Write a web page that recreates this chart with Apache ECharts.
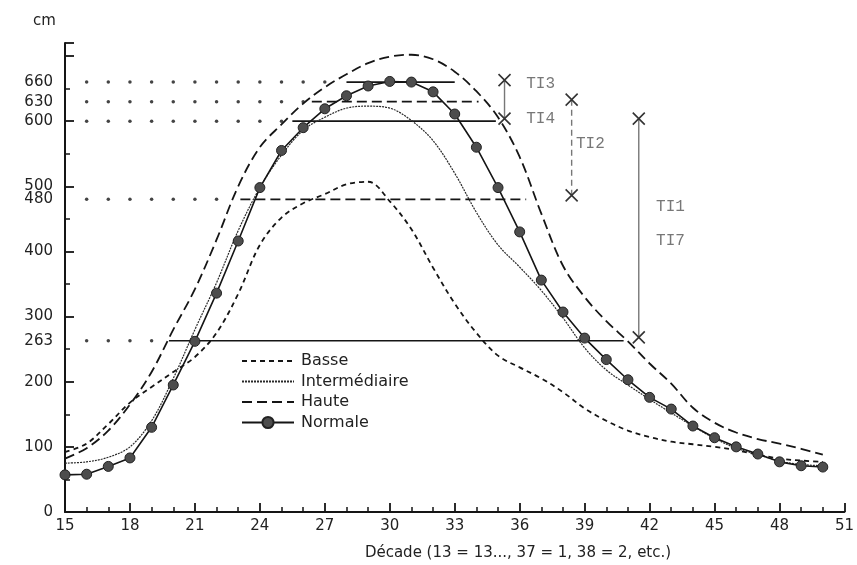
<!DOCTYPE html>
<html><head><meta charset="utf-8">
<script src="https://cdn.jsdelivr.net/npm/echarts@6/dist/echarts.min.js"></script>
<style>html,body{margin:0;padding:0;background:#fff}#c{width:857px;height:565px}</style>
</head><body><div id="c"></div>
<script>
const decades = [15,16,17,18,19,20,21,22,23,24,25,26,27,28,29,30,31,32,33,34,35,36,37,38,39,40,41,42,43,44,45,46,47,48,49,50];
const basse = [92,105,135,168,192,215,238,275,335,410,452,474,488,503,507,477,434,375,320,275,240,222,205,184,159,140,125,115,108,104,100,95,88,82,79,77];
const intermediaire = [75,77,84,100,140,205,280,352,432,498,548,586,606,620,623,620,601,570,520,460,410,376,340,298,252,218,195,173,152,132,113,98,88,78,73,71];
const haute = [82,98,125,165,215,280,342,418,500,560,595,627,652,672,689,699,702,695,676,646,606,545,458,378,330,293,262,228,197,160,137,122,112,105,97,88];
const normale = [57,58,70,83,130,195,262,336,416,498,555,590,619,639,654,661,660,645,611,560,498,430,356,307,267,234,203,176,158,132,114,100,89,77,71,69];

const yLabelValues = [0,100,200,263,300,400,480,500,600,630,660];
const xLabelValues = [15,18,21,24,27,30,33,36,39,42,45,48,51];

// horizontal threshold segments
const thrValue = [660, 630, 600, 480, 263];
const thrStart = [28, 26.4, 25.5, 23.1, 19.8];
const thrEnd = [33, 34.1, 34.9, 36.3, 40.8];
const thrDashed = [false, true, false, true, false];
// leader dots: from decade 16 up to
const leaderEnd = [27, 26, 25, 22, 19];

// interval brackets
const tiDecade = [35.3, 38.4, 41.5];
const tiTop = [663, 633, 604];
const tiBottom = [604, 486, 268];
const tiDashed = [false, true, false];
// annotation text anchors
const tiText = ['TI3', 'TI4', 'TI2', 'TI1', 'TI7'];
const tiTextDecade = [36.3, 36.3, 38.6, 42.3, 42.3];
const tiTextValue = [657, 604, 566, 468, 416];

const pair = arr => decades.map((d, i) => [d, arr[i]]);
const BLACK = '#151515';
const FONT = 'DejaVu Sans, Liberation Sans, Arial, sans-serif';

const series = [];
series.push({name:'Basse', type:'line', data:pair(basse), symbol:'none', smooth:0.35,
  lineStyle:{color:BLACK, width:1.8, type:[5,4]}, itemStyle:{color:BLACK}, z:3});
series.push({name:'Intermédiaire', type:'line', data:pair(intermediaire), symbol:'none', smooth:0.35,
  lineStyle:{color:'#2a2a2a', width:1.2, type:[2,1]}, itemStyle:{color:'#2a2a2a'}, z:3});
series.push({name:'Haute', type:'line', data:pair(haute), symbol:'none', smooth:0.35,
  lineStyle:{color:BLACK, width:1.8, type:[10,5]}, itemStyle:{color:BLACK}, z:3});

thrValue.forEach((v, i) => {
  series.push({type:'line', data:[[thrStart[i], v],[thrEnd[i], v]], symbol:'none', silent:true,
    lineStyle:{color:BLACK, width:1.6, type: thrDashed[i] ? [10,5] : 'solid'}, z:2});
  const dots = [];
  for (let d = 16; d <= leaderEnd[i]; d++) dots.push([d, v]);
  series.push({type:'scatter', data:dots, symbol:'circle', symbolSize:3.5, silent:true,
    itemStyle:{color:BLACK}, z:2});
});

const xPath = 'path://M0,0L10,10M10,0L0,10';
tiDecade.forEach((d, i) => {
  series.push({type:'line', data:[[d, tiTop[i]],[d, tiBottom[i]]], silent:true,
    symbol:xPath, symbolSize:12, showSymbol:true,
    itemStyle:{color:'none', borderColor:'#333', borderWidth:1.6},
    lineStyle:{color:'#777', width:1.4, type: tiDashed[i] ? [6,4] : 'solid'}, z:4});
});

series.push({type:'scatter', silent:true, symbolSize:0,
  data: tiText.map((t, i) => ({name:t, value:[tiTextDecade[i], tiTextValue[i]]})),
  label:{show:true, position:'right', distance:0, formatter:p => p.name,
    fontFamily:'Liberation Mono, Courier New, monospace', fontSize:16, color:'#555'}, z:5});

series.push({name:'Normale', type:'line', data:pair(normale), symbol:'circle', symbolSize:10,
  lineStyle:{color:BLACK, width:1.6}, itemStyle:{color:'#4d4d4d', borderColor:'#222', borderWidth:1}, z:6});

const hidden = {color:'transparent', borderColor:'transparent'};
const chart = echarts.init(document.getElementById('c'), null, {renderer:'canvas'});
chart.setOption({
  animation:false,
  backgroundColor:'#fff',
  textStyle:{fontFamily:FONT},
  title:[
    {text:'cm', left:28, top:9, textStyle:{fontSize:15, fontWeight:'normal', color:'#222', fontFamily:FONT}},
    {text:'Décade (13 = 13..., 37 = 1, 38 = 2, etc.)', left:513, top:541, textAlign:'center',
      textStyle:{fontSize:15, fontWeight:'normal', color:'#222', fontFamily:FONT}}
  ],
  legend:{data:[{name:'Basse', itemStyle:hidden},{name:'Intermédiaire', itemStyle:hidden},
      {name:'Haute', itemStyle:hidden},{name:'Normale'}],
    orient:'vertical', left:236, top:348,
    itemWidth:52, itemHeight:14, itemGap:4.5,
    textStyle:{fontSize:16, lineHeight:16, color:'#222', fontFamily:FONT, padding:[0,0,0,2]}},
  grid:{left:65, right:12, top:43, bottom:53},
  xAxis:{type:'value', min:15, max:51, interval:3,
    axisLine:{lineStyle:{color:BLACK, width:2}},
    axisTick:{inside:true, length:9, lineStyle:{width:1.8, color:BLACK}},
    minorTick:{show:true, splitNumber:3, length:5, lineStyle:{width:1.5, color:BLACK}},
    splitLine:{show:false},
    axisLabel:{color:'#222', fontSize:15, margin:7, fontFamily:FONT, customValues:xLabelValues}},
  yAxis:{type:'value', min:0, max:720, interval:100,
    axisLine:{show:true, lineStyle:{color:BLACK, width:2}},
    axisTick:{show:true, inside:true, length:9, lineStyle:{width:1.8, color:BLACK}},
    minorTick:{show:true, splitNumber:2, length:5, lineStyle:{width:1.5, color:BLACK}},
    splitLine:{show:false},
    axisLabel:{color:'#222', fontSize:15, margin:12, fontFamily:FONT, customValues:yLabelValues}},
  series: series
});
</script>
</body></html>
